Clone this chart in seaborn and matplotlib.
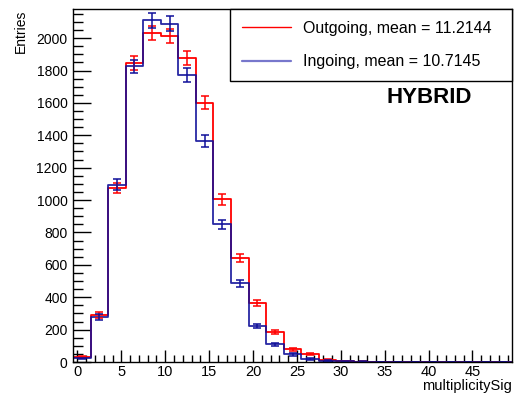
import numpy as np
import pandas as pd
import matplotlib
matplotlib.use("Agg")
import matplotlib.pyplot as plt
import seaborn as sns
from matplotlib.lines import Line2D

# ---- data ----
bin_edges = list(np.arange(-0.5, 49.6, 2.0))          # 25 bins of width 2
bin_centers = [(a + b) / 2 for a, b in zip(bin_edges[:-1], bin_edges[1:])]

outgoing = [30, 290, 1075, 1845, 2033, 2012, 1875, 1601, 1004, 644, 362, 185, 78,
            49, 15, 5, 2, 1, 0, 0, 0, 0, 0, 0, 0]
outgoing_err = [5.5, 17, 33, 43, 45, 45, 43, 40, 32, 25, 19, 14, 9,
                7, 4, 2, 1.4, 1, 0, 0, 0, 0, 0, 0, 0]
ingoing = [22, 278, 1095, 1825, 2111, 2088, 1772, 1366, 850, 486, 222, 109, 47,
           18, 8, 4, 2, 1, 1, 1, 1, 0, 0, 0, 0]
ingoing_err = [4.7, 17, 33, 43, 46, 46, 42, 37, 29, 22, 15, 10, 7,
               4, 3, 2, 1.4, 1, 1, 1, 1, 0, 0, 0, 0]

out_label = "Outgoing, mean = 11.2144"
in_label = "Ingoing, mean = 10.7145"
x_title = "multiplicitySig"
y_title = "Entries"
tag = "HYBRID"

sns.set_style("white")
plt.rcParams["font.family"] = ["Liberation Sans", "DejaVu Sans"]
plt.rcParams["text.color"] = "black"
plt.rcParams["axes.labelcolor"] = "black"
plt.rcParams["xtick.color"] = "black"
plt.rcParams["ytick.color"] = "black"

fig = plt.figure(figsize=(5.15, 3.97), dpi=100)
ax = fig.add_axes([73 / 515, 1 - 362 / 397, 439 / 515, 353 / 397])

red = "#ff0000"
blue = "#10109a"

df_out = pd.DataFrame({"x": bin_centers, "w": outgoing})
df_in = pd.DataFrame({"x": bin_centers, "w": ingoing})

sns.histplot(data=df_out, x="x", weights="w", bins=bin_edges,
             element="step", fill=False, color=red, linewidth=1.3, ax=ax)
sns.histplot(data=df_in, x="x", weights="w", bins=bin_edges,
             element="step", fill=False, color=blue, linewidth=1.3, alpha=0.9, ax=ax)

ax.errorbar(bin_centers, outgoing, yerr=outgoing_err, fmt="none", ecolor=red,
            elinewidth=1.1, capsize=2.8, capthick=1.1)
ax.errorbar(bin_centers, ingoing, yerr=ingoing_err, fmt="none", ecolor=blue,
            elinewidth=1.1, capsize=2.8, capthick=1.1)

ax.set_xlim(-0.5, 49.5)
ax.set_ylim(0, 2180)
ax.set_xticks(np.arange(0, 50, 5))
ax.set_xticks(np.arange(0, 50, 1), minor=True)
ax.set_yticks(np.arange(0, 2001, 200))
ax.set_yticks(np.arange(0, 2151, 50), minor=True)

ax.tick_params(axis="x", which="major", direction="in", length=9, width=1,
               labelsize=10.5, pad=2, bottom=True, top=False)
ax.tick_params(axis="x", which="minor", direction="in", length=5, width=1,
               bottom=True, top=False)
ax.tick_params(axis="y", which="major", direction="in", length=13, width=1,
               labelsize=10, pad=4, left=True, right=False)
ax.tick_params(axis="y", which="minor", direction="in", length=7, width=1,
               left=True, right=False)

for sp in ax.spines.values():
    sp.set_visible(True)
    sp.set_color("black")
    sp.set_linewidth(1)

ax.set_xlabel(x_title, fontsize=10.5, ha="right", va="top")
ax.xaxis.set_label_coords(1.0, -0.048)
ax.set_ylabel(y_title, fontsize=10, loc="top")
ax.yaxis.set_label_coords(-0.103, 0.997)

handles = [Line2D([], [], color=red, lw=1.0),
           Line2D([], [], color="#7777cc", lw=1.6)]
leg = ax.legend(handles, [out_label, in_label], loc="upper left",
                bbox_to_anchor=(0.3576, 0.0, 0.6424, 1.0), mode="expand",
                borderaxespad=0, fontsize=11.5, handlelength=3.1,
                handletextpad=0.75, borderpad=0.75, labelspacing=1.15,
                fancybox=False, framealpha=1, edgecolor="black")
leg.get_frame().set_linewidth(1)

ax.text(0.811, 0.7507, tag, transform=ax.transAxes, ha="center", va="center",
        fontsize=16, fontweight="bold", color="black")

fig.savefig("out.png", dpi=100)
